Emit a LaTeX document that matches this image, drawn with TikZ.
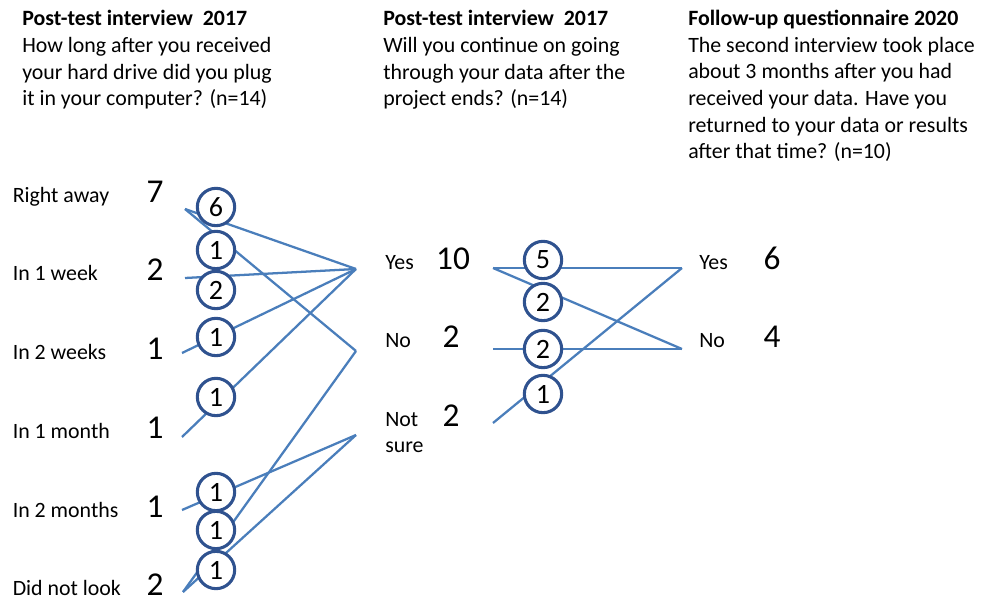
\documentclass[tikz,border=0pt]{standalone}
\usepackage{fontspec}
\setmainfont{Carlito}
\definecolor{flowline}{RGB}{74,126,187}
\definecolor{ringblue}{RGB}{47,82,143}
\tikzset{
  count/.style={circle, draw=ringblue, line width=2.3pt, fill=white,
    minimum size=28pt, inner sep=0pt, font=\fontsize{21}{21}\selectfont},
  flow/.style={draw=flowline, line width=1.7pt},
  answer/.style={anchor=base west, inner sep=0pt, align=left,
    font=\fontsize{16.4}{20}\selectfont},
  total/.style={anchor=base, inner sep=0pt, font=\fontsize{25}{25}\selectfont},
  question/.style={anchor=base west, inner sep=0pt, align=left,
    font=\fontsize{16.4}{20}\selectfont},
}
\begin{document}
\begin{tikzpicture}[x=0.75pt, y=-0.75pt]
  \useasboundingbox (0,0) rectangle (989,598);

  % questions (placed by the baseline of their last line)
  \node [question] (q1) at (22,106) {\textbf{Post-test interview~~2017}\\
    How long after you received\\your hard drive did you plug\\
    it in your computer? (n=14)};
  \node [question] (q2) at (383,106) {\textbf{Post-test interview~~2017}\\
    Will you continue on going\\through your data after the\\
    project ends? (n=14)};
  \node [question] (q3) at (688,159) {\textbf{Follow-up questionnaire 2020}\\
    The second interview took place\\about 3 months after you had\\
    received your data. Have you\\returned to your data or results\\
    after that time? (n=10)};

  % answers 2017, first question
  \node [answer] (ra)  at (12.5,203) {Right away};
  \node [answer] (wk1) at (12.5,281) {In 1 week};
  \node [answer] (wk2) at (12.5,360) {In 2 weeks};
  \node [answer] (mo1) at (12.5,439) {In 1 month};
  \node [answer] (mo2) at (12.5,517) {In 2 months};
  \node [answer] (dnl) at (12.5,595) {Did not look};
  \node [total] (nra)  at (155,203) {7};
  \node [total] (nwk1) at (155,281) {2};
  \node [total] (nwk2) at (155,360) {1};
  \node [total] (nmo1) at (155,439) {1};
  \node [total] (nmo2) at (155,517) {1};
  \node [total] (ndnl) at (155,595) {2};

  % answers 2017, second question
  \node [answer] (yes)  at (385,270) {Yes};
  \node [answer] (no)   at (385,348) {No};
  \node [answer] (ns)   at (385,453) {Not\\sure};
  \node [total] (nyes) at (453,270) {10};
  \node [total] (nno)  at (451,348) {2};
  \node [total] (nns)  at (451,427) {2};

  % answers 2020
  \node [answer] (fyes) at (699,270) {Yes};
  \node [answer] (fno)  at (699,348) {No};
  \node [total] (nfyes) at (772,270) {6};
  \node [total] (nfno)  at (772,348) {4};

  % line ends
  \coordinate (ra-r)  at (185,209);
  \coordinate (wk1-r) at (185,278);
  \coordinate (wk2-r) at (182,353);
  \coordinate (mo1-r) at (182,437);
  \coordinate (mo2-r) at (182,510);
  \coordinate (dnl-r) at (183,592);
  \coordinate (yes-l) at (356,269);
  \coordinate (no-l)  at (356,351);
  \coordinate (ns-l)  at (356,435);
  \coordinate (yes-r) at (493,268);
  \coordinate (no-r)  at (493,349);
  \coordinate (ns-r)  at (493,423);
  \coordinate (fyes-l) at (682,268);
  \coordinate (fno-l)  at (682,349);

  \draw [flow] (ra-r) -- (yes-l);
  \draw [flow] (ra-r) -- (no-l);
  \draw [flow] (wk1-r) -- (yes-l);
  \draw [flow] (wk2-r) -- (yes-l);
  \draw [flow] (mo1-r) -- (yes-l);
  \draw [flow] (mo2-r) -- (ns-l);
  \draw [flow] (dnl-r) -- (no-l);
  \draw [flow] (dnl-r) -- (ns-l);

  \draw [flow] (yes-r) -- (fyes-l);
  \draw [flow] (yes-r) -- (fno-l);
  \draw [flow] (no-r) -- (fno-l);
  \draw [flow] (ns-r) -- (fyes-l);

  % counts on the lines
  \node [count] (c-ra-yes)  at (216,207) {6};
  \node [count] (c-ra-no)   at (216,250) {1};
  \node [count] (c-wk1-yes) at (216,290) {2};
  \node [count] (c-wk2-yes) at (216,337) {1};
  \node [count] (c-mo1-yes) at (216,397) {1};
  \node [count] (c-mo2-ns)  at (216,492) {1};
  \node [count] (c-dnl-no)  at (216,530) {1};
  \node [count] (c-dnl-ns)  at (216,570) {1};

  \node [count] (c-yes-yes) at (543,260) {5};
  \node [count] (c-yes-no)  at (543,302) {2};
  \node [count] (c-no-no)   at (543,349) {2};
  \node [count] (c-ns-yes)  at (543,394) {1};
\end{tikzpicture}
\end{document}
